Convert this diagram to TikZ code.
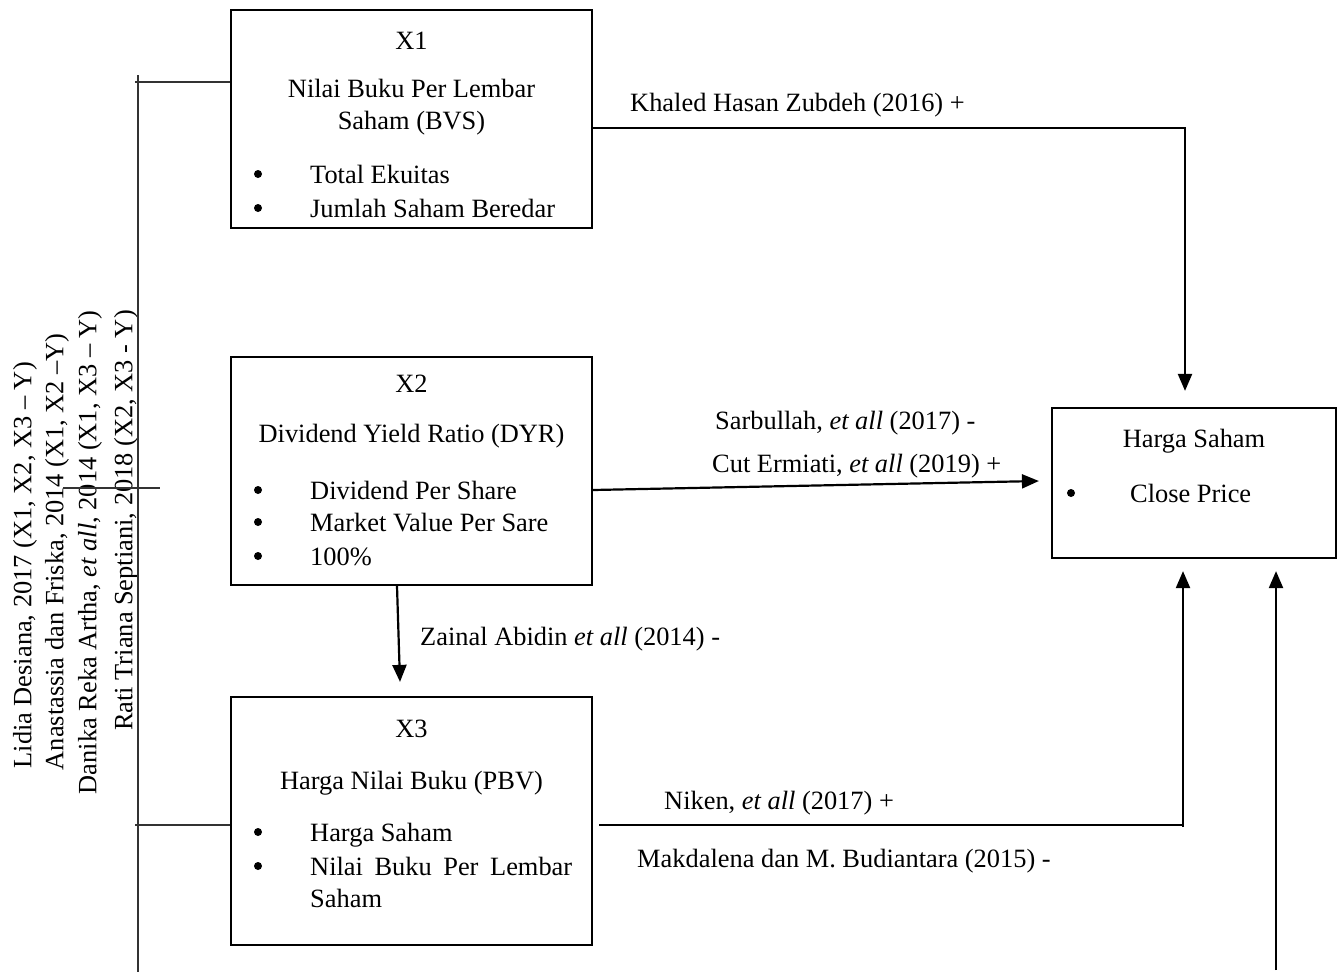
\documentclass[tikz,border=0pt]{standalone}
\usepackage{fontspec}
\setmainfont{Liberation Serif}
\usetikzlibrary{arrows.meta,calc}
\begin{document}
\begin{tikzpicture}[x=1pt,y=-1pt,
  txt/.style={inner sep=0pt,font=\fontsize{26.4}{32}\selectfont},
  lt/.style={txt,anchor=base west},
  ct/.style={txt,anchor=base},
  bul/.style={circle,fill=black,inner sep=0pt,minimum size=8pt},
  rt/.style={txt,rotate=90,anchor=east},
  boxx/.style={draw,line width=2.2pt,inner sep=0pt},
  arr/.style={line width=2.2pt,-{Triangle[length=17pt,width=14pt]}},
  conn/.style={line width=2.2pt},
  thinl/.style={line width=1.4pt,draw=black!80}]
\useasboundingbox (0,0) rectangle (1338,977);
% boxes
\node[boxx,minimum width=361pt,minimum height=218pt] (x1) at (411.5,119) {};
\node[boxx,minimum width=361pt,minimum height=228pt] (x2) at (411.5,471) {};
\node[boxx,minimum width=361pt,minimum height=248pt] (x3) at (411.5,821) {};
\node[boxx,minimum width=284pt,minimum height=150pt] (y) at (1194,483) {};
% X1 text
\node[ct] (x1a) at (411.5,49) {X1};
\node[ct] (x1b) at (411.5,97) {Nilai Buku Per Lembar};
\node[ct] (x1c) at (411.5,129) {Saham (BVS)};
\node[bul] (x1d) at (258,174) {};
\node[lt] (x1e) at (310,183) {Total Ekuitas};
\node[bul] (x1f) at (258,208) {};
\node[lt] (x1g) at (310,217) {Jumlah Saham Beredar};
% X2 text
\node[ct] (x2a) at (411.5,392) {X2};
\node[ct] (x2b) at (411.5,442) {Dividend Yield Ratio (DYR)};
\node[bul] (x2c) at (258,490) {};
\node[lt] (x2d) at (310,499) {Dividend Per Share};
\node[bul] (x2e) at (258,522) {};
\node[lt] (x2f) at (310,531) {Market Value Per Sare};
\node[bul] (x2g) at (258,556) {};
\node[lt] (x2h) at (310,565) {100\%};
% X3 text
\node[ct] (x3a) at (411.5,737) {X3};
\node[ct] (x3b) at (411.5,789) {Harga Nilai Buku (PBV)};
\node[bul] (x3c) at (258,832) {};
\node[lt] (x3d) at (310,841) {Harga Saham};
\node[bul] (x3e) at (258,866) {};
\node[lt] (x3f) at (310,875) {\makebox[262pt][s]{Nilai Buku Per Lembar}};
\node[lt] (x3g) at (310,907) {Saham};
% Y text
\node[ct] (ya) at (1194,447) {Harga Saham};
\node[bul] (yb) at (1071,493) {};
\node[lt] (yc) at (1130,502) {Close Price};
% labels
\node[lt] (l1) at (630,111) {Khaled Hasan Zubdeh (2016) +};
\node[lt] (l2) at (715,429) {Sarbullah, \textit{et all} (2017) -};
\node[lt] (l3) at (712,472) {Cut Ermiati, \textit{et all} (2019) +};
\node[lt] (l4) at (420,645) {Zainal Abidin \textit{et all} (2014) -};
\node[lt] (l5) at (664,809) {Niken, \textit{et all} (2017) +};
\node[lt] (l6) at (637,867) {Makdalena dan M. Budiantara (2015) -};
% rotated texts
\node[rt] (r1) at (25,362) {Lidia Desiana, 2017 (X1, X2, X3 – Y)};
\node[rt] (r2) at (57,333) {Anastassia dan Friska, 2014 (X1, X2 –Y)};
\node[rt] (r3) at (90,310) {Danika Reka Artha, \textit{et all}, 2014 (X1, X3 – Y)};
\node[rt] (r4) at (126,310) {Rati Triana Septiani, 2018 (X2, X3 - Y)};
% connectors
\coordinate (c1) at (1185,128);
\draw[arr,shorten >=16pt] (x1.east |- c1) -- (c1) -- (c1 |- y.north);
\draw[arr] ([yshift=-19pt]x2.east) -- ([xshift=-12pt,yshift=2pt]y.west);
\draw[arr] ([xshift=-14.5pt]x2.south) -- ([xshift=-11.5pt,yshift=14pt]x3.north);
\coordinate (c3) at (1183,825);
\draw[conn] ([xshift=6pt]x3.east |- c3) -- (c3);
\draw[arr,shorten >=12pt] ([yshift=-2pt]c3) -- (c3 |- y.south);
\coordinate (c4) at (1276,970);
\draw[arr,shorten >=12pt] (c4) -- (c4 |- y.south);
% left lines
\coordinate (v1) at (138,75);
\coordinate (v2) at (138,972);
\draw[thinl] (v1) -- (v2);
\coordinate (h1) at (135,82);
\draw[thinl] (h1) -- (x1.west |- h1);
\coordinate (h2a) at (63,488);
\coordinate (h2b) at (160,488);
\draw[thinl] (h2a) -- (h2b);
\coordinate (h3) at (135,825);
\draw[thinl] (h3) -- (x3.west |- h3);
\end{tikzpicture}
\end{document}
